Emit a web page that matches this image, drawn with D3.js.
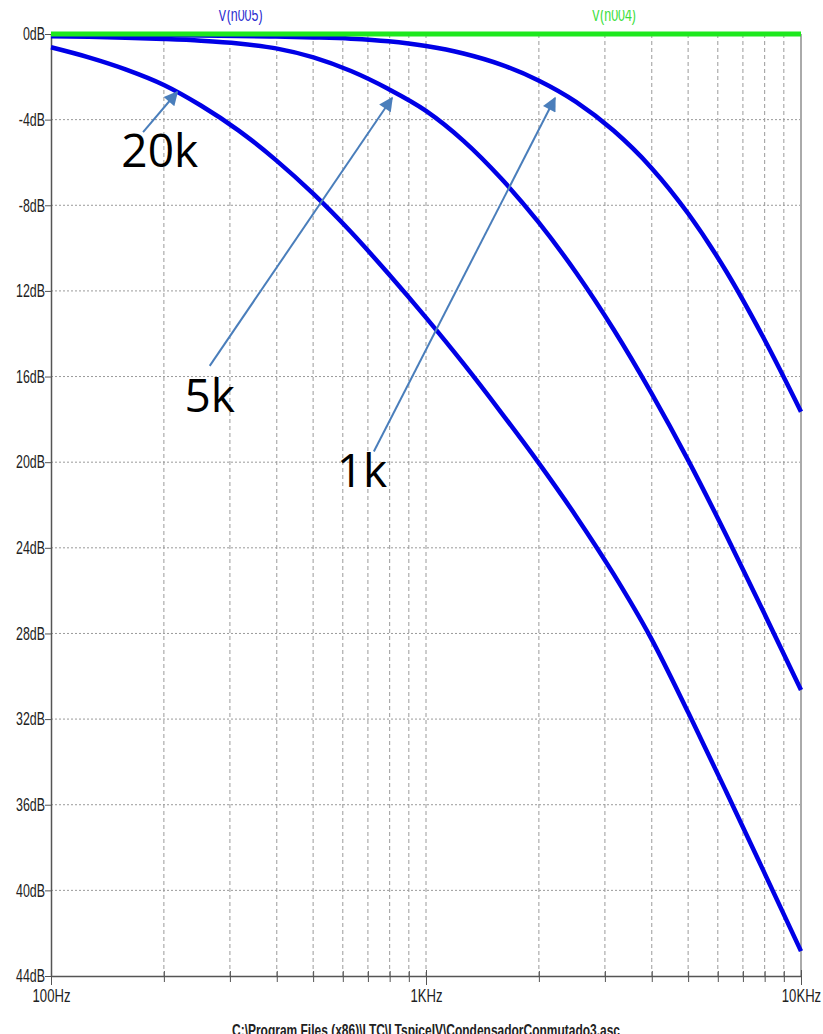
<!DOCTYPE html>
<html>
<head>
<meta charset="utf-8">
<script src="https://cdn.jsdelivr.net/npm/d3@7"></script>
<style>
  html, body { margin: 0; padding: 0; background: #fff; }
  svg { display: block; }
</style>
</head>
<body>
<svg id="plot" width="823" height="1034"></svg>
<script>
// Frequency sweep (Hz, ten points per decade) and the gain (dB) of each trace
const freqHz   = [100, 126, 158, 200, 251, 316, 398, 501, 631, 794, 1000, 1259, 1585, 1995, 2512, 3162, 3981, 5012, 6310, 7943, 10000];
const gain20k  = [-0.62, -1.09, -1.65, -2.38, -3.34, -4.50, -5.89, -7.47, -9.25, -11.20, -13.25, -15.40, -17.67, -20.02, -22.52, -25.22, -28.22, -31.72, -35.37, -39.09, -42.84];
const gain5k   = [-0.10, -0.13, -0.17, -0.23, -0.31, -0.44, -0.67, -1.09, -1.73, -2.57, -3.59, -4.99, -6.74, -8.79, -11.14, -13.79, -16.74, -19.94, -23.39, -26.99, -30.64];
const gain1k   = [-0.02, -0.03, -0.04, -0.05, -0.07, -0.09, -0.12, -0.16, -0.22, -0.34, -0.56, -0.91, -1.43, -2.17, -3.17, -4.51, -6.23, -8.41, -11.07, -14.19, -17.64];
const gainN004 = [0, 0, 0, 0, 0, 0, 0, 0, 0, 0, 0, 0, 0, 0, 0, 0, 0, 0, 0, 0, 0];

// Axis ticks
const dbTicks      = [0, -4, -8, -12, -16, -20, -24, -28, -32, -36, -40, -44];
const dbTickLabels = ["0dB", "-4dB", "-8dB", "12dB", "16dB", "20dB", "24dB", "28dB", "32dB", "36dB", "40dB", "44dB"];
const decadeTicks  = [100, 1000, 10000];
const decadeLabels = ["100Hz", "1KHz", "10KHz"];
const minorTicks   = [200, 300, 400, 500, 600, 700, 800, 900, 2000, 3000, 4000, 5000, 6000, 7000, 8000, 9000];

// Trace names and annotations (positions given in Hz and dB)
const traceNames    = ["V(n005)", "V(n004)"];
const traceNameFreq = [320, 3170];
const noteLabels = ["20k", "5k", "1k"];
const noteTip    = [[217, -2.71], [812, -2.99], [2208, -2.99]];
const noteTail   = [[176, -4.58], [265, -15.5], [726, -19.5]];
const noteText   = [[195, -6.2], [265, -17.65], [675, -21.15]];
const fileName = "C:\\Program Files (x86)\\LTC\\LTspiceIV\\CondensadorConmutado3.asc";

const svg = d3.select("#plot");
const x = d3.scaleLog().domain([100, 10000]).range([51, 801]);
const y = d3.scaleLinear().domain([0, -44]).range([34, 976]);
const SX = 0.69; // horizontal squeeze of the axis font

// grid
const grid = svg.append("g");
grid.selectAll("line.v").data(minorTicks.concat([1000])).join("line")
  .attr("x1", d => x(d)).attr("x2", d => x(d))
  .attr("y1", y(0)).attr("y2", y(-44))
  .attr("stroke", "#9a9a9a").attr("stroke-width", 1)
  .attr("stroke-dasharray", "4,3");
grid.selectAll("line.h").data(dbTicks.slice(1, -1)).join("line")
  .attr("x1", x(100)).attr("x2", x(10000))
  .attr("y1", d => y(d)).attr("y2", d => y(d))
  .attr("stroke", "#9a9a9a").attr("stroke-width", 1)
  .attr("stroke-dasharray", "2,2");

// right border
svg.append("line")
  .attr("x1", x(10000)).attr("x2", x(10000))
  .attr("y1", y(0)).attr("y2", y(-44))
  .attr("stroke", "#aaa").attr("stroke-width", 2);

// left axis
const yAxis = svg.append("g").attr("transform", `translate(${x(100)},0)`)
  .call(d3.axisLeft(y).tickValues(dbTicks).tickFormat((d, i) => dbTickLabels[i]).tickSize(6).tickSizeOuter(0));
yAxis.select(".domain").attr("stroke", "#555").attr("stroke-width", 1.5);
yAxis.selectAll(".tick line").attr("stroke", "#555");
yAxis.selectAll(".tick text")
  .attr("font-family", "Liberation Sans, Arial, sans-serif")
  .attr("font-size", 18).attr("fill", "#222")
  .attr("x", -6 / SX)
  .attr("transform", `scale(${SX},1)`);

// bottom axis: minor ticks, then decade ticks with labels
const xMinor = svg.append("g").attr("transform", `translate(0,${y(-44)})`)
  .call(d3.axisBottom(x).tickValues(minorTicks).tickFormat("").tickSize(6).tickSizeOuter(0));
xMinor.select(".domain").attr("stroke", "#555").attr("stroke-width", 1.5);
xMinor.selectAll(".tick line").attr("stroke", "#555").attr("y1", -5);

const xMajor = svg.append("g").attr("transform", `translate(0,${y(-44)})`)
  .call(d3.axisBottom(x).tickValues(decadeTicks).tickFormat((d, i) => decadeLabels[i]).tickSize(9).tickSizeOuter(0));
xMajor.select(".domain").remove();
xMajor.selectAll(".tick line").attr("stroke", "#555").attr("y1", -6);
xMajor.selectAll(".tick text")
  .attr("font-family", "Liberation Sans, Arial, sans-serif")
  .attr("font-size", 19).attr("fill", "#222")
  .attr("y", 13)
  .attr("transform", `scale(${SX},1)`);

// traces
const line = d3.line()
  .x(d => x(d[0]))
  .y(d => y(d[1]))
  .curve(d3.curveMonotoneX);

const blueTraces = [gain20k, gain5k, gain1k];
svg.append("g").selectAll("path").data(blueTraces).join("path")
  .attr("d", g => line(freqHz.map((f, i) => [f, g[i]])))
  .attr("fill", "none")
  .attr("stroke", "#0000e6")
  .attr("stroke-width", 4.5)
  .attr("stroke-linejoin", "round");

svg.append("path")
  .attr("d", line(freqHz.map((f, i) => [f, gainN004[i]])))
  .attr("fill", "none")
  .attr("stroke", "#1ee81e")
  .attr("stroke-width", 5);

// trace names at the top (partly cut by the window edge)
const defs = svg.append("defs");
defs.append("clipPath").attr("id", "topclip")
  .append("rect").attr("x", 0).attr("y", 10).attr("width", 823).attr("height", 30);
const names = svg.append("g").attr("clip-path", "url(#topclip)");
names.selectAll("text").data(traceNames).join("text")
  .attr("transform", (d, i) => `translate(${x(traceNameFreq[i])},21) scale(${SX},1)`)
  .attr("text-anchor", "middle")
  .attr("font-family", "Liberation Sans, Arial, sans-serif")
  .attr("font-size", 18)
  .attr("fill", (d, i) => i === 0 ? "#2b2bd0" : "#3ade3a")
  .text(d => d);

// annotation arrows
const arrowColor = "#4a7ebb";
defs.append("marker")
  .attr("id", "arrowhead").attr("viewBox", "0 0 10 10")
  .attr("refX", 9).attr("refY", 5)
  .attr("markerWidth", 16).attr("markerHeight", 14)
  .attr("markerUnits", "userSpaceOnUse")
  .attr("orient", "auto")
  .append("path").attr("d", "M0,0 L10,5 L0,10 Z").attr("fill", arrowColor);

const notes = svg.append("g");
notes.selectAll("line").data(noteLabels).join("line")
  .attr("x1", (d, i) => x(noteTail[i][0])).attr("y1", (d, i) => y(noteTail[i][1]))
  .attr("x2", (d, i) => x(noteTip[i][0])).attr("y2", (d, i) => y(noteTip[i][1]))
  .attr("stroke", arrowColor).attr("stroke-width", 2)
  .attr("marker-end", "url(#arrowhead)");
notes.selectAll("text").data(noteLabels).join("text")
  .attr("x", (d, i) => x(noteText[i][0]))
  .attr("y", (d, i) => y(noteText[i][1]))
  .attr("text-anchor", "middle")
  .attr("font-family", "Open Sans, Noto Sans, sans-serif")
  .attr("font-size", 46)
  .attr("fill", "#000")
  .text(d => d);

// schematic file name under the plot
svg.append("text")
  .attr("x", x(1000)).attr("y", 1036)
  .attr("text-anchor", "middle")
  .attr("font-family", "Liberation Sans, Arial, sans-serif")
  .attr("font-weight", "bold")
  .attr("font-size", 17)
  .attr("textLength", 388).attr("lengthAdjust", "spacingAndGlyphs")
  .attr("fill", "#222")
  .text(fileName);
</script>
</body>
</html>
